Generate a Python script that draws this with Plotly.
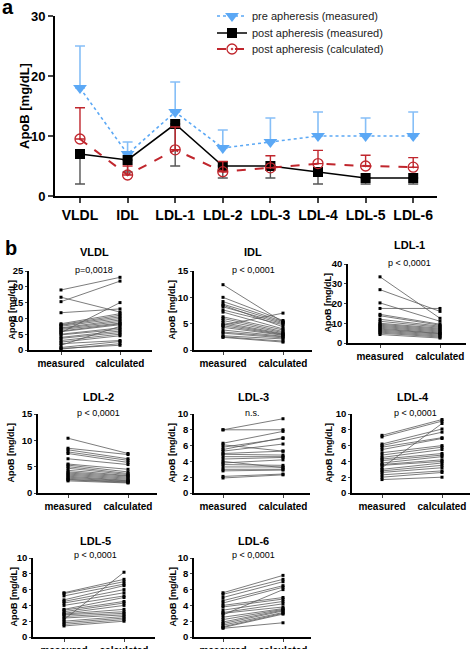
import plotly.graph_objects as go

W, H = 472, 649
FONT = "Liberation Sans, Arial, sans-serif"

# ---------------- Panel a data ----------------
fractions = ["VLDL", "IDL", "LDL-1", "LDL-2", "LDL-3", "LDL-4", "LDL-5", "LDL-6"]
pre_measured = [18, 7, 14, 8, 9, 10, 10, 10]
pre_measured_err_up = [7, 2, 5, 3, 4, 4, 3, 4]
post_measured = [7, 6, 12, 5, 5, 4, 3, 3]
post_measured_err_down = [5, 2, 7, 2, 2, 2, 1, 1]
post_calculated = [9.5, 3.5, 7.7, 4.05, 4.7, 5.4, 5.0, 4.8]
post_calculated_err_up = [5.2, 1.5, 3.8, 1.7, 2.0, 2.2, 1.8, 1.6]

# ---------------- Panel b data (measured -> calculated per patient) ----------------
vldl_measured = [19, 16.7, 15.3, 11.8, 8.3, 8, 7.8, 7.5, 7, 6.8, 6.5, 6, 5.8, 5.5, 5, 4.8, 4, 3.7, 3, 2.5, 2, 1.5, 0.8, 0.5, 0.3]
vldl_calculated = [23, 12, 21.8, 13, 11.5, 11, 10.5, 10, 9.5, 9, 8.5, 8.3, 8, 15, 7, 6.5, 6, 5.5, 5, 4.5, 3, 7.5, 2.7, 1.5, 2]

idl_measured = [12.4, 10, 9.2, 8.7, 8.5, 8.2, 7.6, 7.2, 6.3, 6, 5.6, 5.2, 4.9, 4.7, 4.6, 4.3, 3.8, 3.4, 3.2, 2.7, 2.5, 2.4]
idl_calculated = [5.3, 5.6, 5.4, 5.2, 4.4, 5.0, 4.8, 4.0, 3.8, 3.5, 3.3, 3.1, 3.0, 7.0, 2.9, 2.8, 2.6, 2.5, 2.3, 2.1, 1.7, 1.5]

ldl1_measured = [33.5, 27, 20.3, 17.5, 14.5, 13.8, 12, 11, 10, 9.5, 9, 8.5, 8, 7.5, 7, 6.5, 6, 5.5, 5, 4.3]
ldl1_calculated = [12.5, 16, 11, 17.5, 9.5, 9, 8.5, 8, 7.5, 7, 6.5, 6, 5.5, 5, 4.8, 4.5, 4, 3.5, 3, 2.5]

ldl2_measured = [10.4, 8.5, 8.2, 7.8, 7.5, 6.5, 5.5, 5.3, 5, 4.7, 4.3, 4, 3.8, 3.6, 3.4, 3.2, 3, 2.8, 2.6, 2.5, 2.3]
ldl2_calculated = [7.5, 7.3, 6.5, 6.2, 5.8, 5.4, 4.5, 4.0, 3.7, 3.5, 3.3, 3.2, 3.0, 2.8, 2.6, 2.4, 2.3, 2.2, 2.1, 2.0, 1.9]

ldl3_measured = [8, 8, 6.3, 6.1, 5.8, 5.5, 5.3, 5, 4.9, 4.6, 4.3, 4, 3.8, 3.6, 3.3, 3, 2.8, 2.1, 1.9]
ldl3_calculated = [9.4, 8, 7.8, 5.3, 6.9, 7.0, 6.2, 5.3, 4.8, 4.6, 4.5, 3.2, 4.2, 3.5, 3.3, 3.0, 2.9, 2.4, 2.3]

ldl4_measured = [7.3, 7.1, 6.2, 6, 5.8, 5.5, 5.1, 4.8, 4.5, 4.3, 4.1, 3.8, 3.6, 3.5, 3.2, 3, 2.8, 2.6, 2.3, 2, 1.7]
ldl4_calculated = [9.3, 9.1, 8.1, 7.7, 7.0, 6.9, 6.0, 5.8, 5.5, 5.0, 4.8, 4.6, 4.2, 4.0, 8.8, 3.8, 3.5, 3.2, 2.8, 2.6, 2.0]

ldl5_measured = [5.6, 5.5, 5.2, 4.7, 4.5, 4.3, 4, 3.5, 3.4, 3.2, 3, 2.9, 2.8, 2.6, 2.4, 2.2, 2, 1.8, 1.6, 1.4]
ldl5_calculated = [7.3, 7.0, 6.7, 6.5, 6.0, 5.6, 5.2, 5.0, 4.5, 4.3, 4.0, 3.5, 3.2, 3.0, 2.8, 8.2, 2.6, 2.4, 2.2, 2.0]

ldl6_measured = [5.6, 5.4, 5, 4.6, 4.3, 4, 3.8, 3.4, 3.1, 3, 2.8, 2.5, 2.2, 1.9, 1.7, 1.5, 1.3, 1.2, 1.1]
ldl6_calculated = [7.8, 7.3, 7.0, 6.5, 6.3, 5.0, 4.8, 4.5, 4.2, 3.8, 6.0, 3.6, 3.5, 3.4, 3.3, 3.1, 3.0, 2.9, 1.8]

pair_labels = ["measured", "calculated"]
p_values = ["p=0,0018", "p < 0,0001", "p < 0,0001", "p < 0,0001", "n.s.", "p < 0,0001", "p < 0,0001", "p < 0,0001"]

BLUE = "#5ba8f5"
BLUE_ERR = "#86bff7"
RED = "#c0262d"


def dx(px):
    return px / W


def dy(py):
    return 1 - py / H


fig = go.Figure()
idx = list(range(len(fractions)))

fig.add_trace(go.Scatter(
    x=idx, y=pre_measured, name="pre apheresis (measured)", mode="lines+markers",
    line=dict(color=BLUE, width=1.6, dash="dot"),
    marker=dict(symbol="triangle-down", size=12, color=BLUE),
    error_y=dict(type="data", symmetric=False, array=pre_measured_err_up,
                 arrayminus=[0] * 8, color=BLUE_ERR, thickness=1.6, width=5),
    xaxis="x", yaxis="y", legend="legend"))
fig.add_trace(go.Scatter(
    x=idx, y=post_measured, name="post apheresis (measured)", mode="lines+markers",
    line=dict(color="black", width=1.6),
    marker=dict(symbol="square", size=10, color="black"),
    error_y=dict(type="data", symmetric=False, array=[0] * 8,
                 arrayminus=post_measured_err_down, color="#555555", thickness=1.4, width=5),
    xaxis="x", yaxis="y", legend="legend2"))
fig.add_trace(go.Scatter(
    x=idx, y=post_calculated, name="post apheresis (calculated)", mode="lines+markers",
    line=dict(color=RED, width=2, dash="dash"),
    marker=dict(symbol="circle-open-dot", size=10, color=RED, line=dict(width=1.3)),
    error_y=dict(type="data", symmetric=False, array=post_calculated_err_up,
                 arrayminus=[0] * 8, color=RED, thickness=1.4, width=5),
    xaxis="x", yaxis="y", legend="legend3"))


def leg(ypx):
    return dict(x=dx(212), y=dy(ypx), xanchor="left", yanchor="middle",
                font=dict(size=11, family=FONT, color="#222"),
                bgcolor="rgba(0,0,0,0)", itemwidth=30)


layout = dict(
    width=W, height=H, margin=dict(l=0, r=0, t=0, b=0, autoexpand=False),
    paper_bgcolor="white", plot_bgcolor="white",
    font=dict(family=FONT, color="black"),
    showlegend=True,
    legend=leg(16), legend2=leg(33), legend3=leg(49),
    xaxis=dict(domain=[dx(55), dx(437)], range=[-0.525, 7.5],
               tickvals=idx, ticktext=fractions, showline=True, linewidth=2,
               linecolor="black", ticks="outside", ticklen=5, tickwidth=2,
               showgrid=False, zeroline=False,
               tickfont=dict(size=14, family=FONT, weight="bold")),
    yaxis=dict(domain=[dy(196), dy(16)], range=[0, 30], tickvals=[0, 10, 20, 30],
               showline=True, linewidth=2, linecolor="black", ticks="outside",
               ticklen=5, tickwidth=2, showgrid=False, zeroline=False,
               tickfont=dict(size=13, family=FONT, weight="bold"),
               anchor="x"),
)


def ann(text, xp, yp, size, angle=0):
    return dict(text=text, x=dx(xp), y=dy(yp), xref="paper", yref="paper",
                xanchor="center", yanchor="middle", textangle=angle,
                showarrow=False, font=dict(size=size, family=FONT, color="black"))


annotations = [
    ann("<b>a</b>", 8, 7, 20),
    ann("<b>b</b>", 11, 248, 20),
    ann("<b>ApoB [mg/dL]</b>", 25, 106, 13, -90),
]

panels = [
    ("VLDL", vldl_measured, vldl_calculated, 29, 61, 120, 152, 350, 271, 25, 5, (94, 252), (94, 270), 12),
    ("IDL", idl_measured, idl_calculated, 194, 223, 283, 312, 350, 271, 15, 5, (253, 252), (253, 270), 172),
    ("LDL-1", ldl1_measured, ldl1_calculated, 348, 380, 440, 466, 343, 264, 40, 10, (409, 245), (409, 263), 327),
    ("LDL-2", ldl2_measured, ldl2_calculated, 38, 68, 128, 157, 493, 414, 15, 5, (98, 397), (98, 413), 10),
    ("LDL-3", ldl3_measured, ldl3_calculated, 194, 223, 283, 310, 493, 414, 10, 2, (253, 397), (252, 413), 171),
    ("LDL-4", ldl4_measured, ldl4_calculated, 352, 382, 442, 470, 493, 414, 10, 2, (413, 397), (415, 413), 328),
    ("LDL-5", ldl5_measured, ldl5_calculated, 33, 64, 124, 155, 637, 558, 10, 2, (95, 541), (95, 555), 13),
    ("LDL-6", ldl6_measured, ldl6_calculated, 194, 223, 283, 311, 637, 558, 10, 2, (253, 541), (253, 555), 172),
]

for i, (title, meas, calc, left, mpx, cpx, right, y0, ytop, ymax, dt, tpos, ppos, ytx) in enumerate(panels):
    n = i + 2
    xs, ys = [], []
    for a, b in zip(meas, calc):
        xs += [0, 1, None]
        ys += [a, b, None]
    fig.add_trace(go.Scatter(
        x=xs, y=ys, mode="lines+markers", showlegend=False,
        line=dict(color="#5a5a5a", width=0.8),
        marker=dict(symbol="square", size=3, color="black"),
        xaxis=f"x{n}", yaxis=f"y{n}", hoverinfo="skip"))
    unit = cpx - mpx
    layout[f"xaxis{n}"] = dict(
        domain=[dx(left), dx(right)],
        range=[(left - mpx) / unit, (right - mpx) / unit],
        tickvals=[0, 1], ticktext=pair_labels, showline=True, linewidth=1.5,
        linecolor="black", ticks="outside", ticklen=3, tickwidth=1.2,
        showgrid=False, zeroline=False, anchor=f"y{n}",
        tickfont=dict(size=10, family=FONT, weight="bold"))
    layout[f"yaxis{n}"] = dict(
        domain=[dy(y0), dy(ytop)], range=[0, ymax], dtick=dt, tick0=0,
        showline=True, linewidth=1.5, linecolor="black", ticks="outside",
        ticklen=2, tickwidth=1.2, showgrid=False, zeroline=False, anchor=f"x{n}",
        tickfont=dict(size=9.5, family=FONT, weight="bold"))
    annotations.append(ann(f"<b>{title}</b>", tpos[0], tpos[1], 11))
    annotations.append(ann(p_values[i], ppos[0], ppos[1], 9))
    annotations.append(ann("<b>ApoB [mg/dL]</b>", ytx, (y0 + ytop) / 2, 9, -90))

layout["annotations"] = annotations
fig.update_layout(**layout)
fig.write_html("out.html", config={"displayModeBar": False},
               post_script="document.body.style.margin='0';")
